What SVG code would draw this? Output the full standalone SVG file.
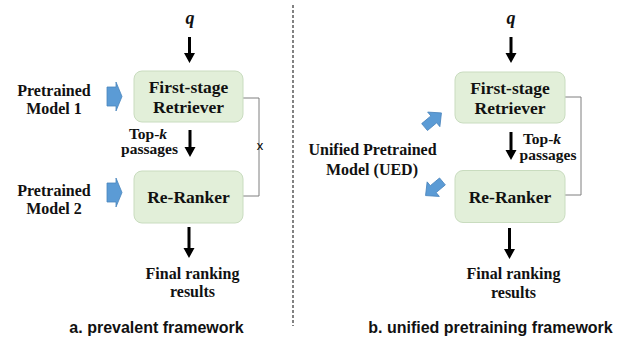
<svg xmlns="http://www.w3.org/2000/svg" width="625" height="339" viewBox="0 0 625 339">
<style>
.box{fill:#e2efd9;stroke:#c9dcbf;stroke-width:1}
.t{font-family:"Liberation Serif","Times New Roman",serif;font-weight:bold;fill:#111;text-anchor:middle}
.bt{font-size:17.5px}
.lt{font-size:16px}
.st{font-size:15.5px}
.cap{font-family:"Liberation Sans",Arial,sans-serif;font-weight:bold;font-size:16px;fill:#111;text-anchor:middle}
.q{font-family:"Liberation Serif","Times New Roman",serif;font-weight:bold;font-style:italic;font-size:18px;fill:#111;text-anchor:middle}
.blk{fill:#000}
.blue{fill:#5b9bd5;stroke:#4a85bd;stroke-width:0.8}
.con{fill:none;stroke:#7f7f7f;stroke-width:1}
</style>
<defs>
<path id="barL" d="M-7.5,-9.5 H1.5 V-14.5 L7.5,0 L1.5,14.5 V9.5 H-7.5 Z"/>
<path id="barS" d="M-11,-4.5 H1 V-9.5 L11,0 L1,9.5 V4.5 H-11 Z"/>
</defs>

<line x1="293" y1="5" x2="293" y2="326" stroke="#303030" stroke-width="1.2" stroke-dasharray="3,2"/>

<g id="connectors">
<path class="blk" d="M188,37 H191 V53 H195 L189.5,63 L184,53 H188 Z"/>
<path class="blk" d="M188.5,130 H191.5 V147 H195.5 L190,157 L184.5,147 H188.5 Z"/>
<path class="blk" d="M187.5,227 H190.5 V248 H194.5 L189,258 L183.5,248 H187.5 Z"/>
<path class="con" d="M243,98 H259 V196 H243"/>
<text x="260" y="149.5" font-family="Liberation Sans,Arial,sans-serif" font-size="13" text-anchor="middle" fill="#000">x</text>
<path class="blk" d="M509.5,37 H512.5 V53 H516.5 L511,63 L505.5,53 H509.5 Z"/>
<path class="blk" d="M509.5,132 H512.5 V150 H516.5 L511,160 L505.5,150 H509.5 Z"/>
<path class="blk" d="M508,228 H511 V249 H515 L509.5,259 L504,249 H508 Z"/>
<path class="con" d="M565,97 H581 V195 H565"/>
</g>

<g id="q-left"><text class="q" x="190" y="24">q</text></g>
<g id="q-right"><text class="q" x="511" y="24">q</text></g>

<g id="pretrained1">
<text class="t lt" x="54" y="95.5">Pretrained</text>
<text class="t lt" x="54" y="114">Model 1</text>
<use href="#barL" class="blue" transform="translate(114.5,96.5)"/>
</g>
<g id="pretrained2">
<text class="t lt" x="54" y="195.5">Pretrained</text>
<text class="t lt" x="54" y="213.5">Model 2</text>
<use href="#barL" class="blue" transform="translate(114.5,192.5)"/>
</g>

<g id="retriever-left">
<rect class="box" x="134" y="71" width="109" height="51" rx="8"/>
<text class="t bt" x="188.5" y="93">First-stage</text>
<text class="t bt" x="188.5" y="113">Retriever</text>
</g>
<g id="topk-left">
<text class="t st" x="148" y="138.5">Top-<tspan font-style="italic">k</tspan></text>
<text class="t st" x="149.5" y="154">passages</text>
</g>
<g id="reranker-left">
<rect class="box" x="134" y="171" width="109" height="52" rx="8"/>
<text class="t bt" x="188.5" y="203">Re-Ranker</text>
</g>
<g id="final-left">
<text class="t lt" x="192.5" y="278.5">Final ranking</text>
<text class="t lt" x="192.5" y="297">results</text>
</g>
<g id="caption-a"><text class="cap" x="156.5" y="333">a. prevalent framework</text></g>

<g id="unified">
<text class="t lt" x="372.5" y="154.5">Unified Pretrained</text>
<text class="t lt" x="372" y="174.5">Model (UED)</text>
<use href="#barS" class="blue" transform="translate(433,120) rotate(-40)"/>
<use href="#barS" class="blue" transform="translate(434,188.5) rotate(140)"/>
</g>

<g id="retriever-right">
<rect class="box" x="455" y="72" width="110" height="51" rx="8"/>
<text class="t bt" x="510" y="94">First-stage</text>
<text class="t bt" x="510" y="113.5">Retriever</text>
</g>
<g id="topk-right">
<text class="t st" x="542" y="144">Top-<tspan font-style="italic">k</tspan></text>
<text class="t st" x="548" y="160">passages</text>
</g>
<g id="reranker-right">
<rect class="box" x="455" y="170.5" width="110" height="52" rx="8"/>
<text class="t bt" x="510" y="203">Re-Ranker</text>
</g>
<g id="final-right">
<text class="t lt" x="513.5" y="279">Final ranking</text>
<text class="t lt" x="513.5" y="297.5">results</text>
</g>
<g id="caption-b"><text class="cap" x="490.5" y="333">b. unified pretraining framework</text></g>
</svg>
